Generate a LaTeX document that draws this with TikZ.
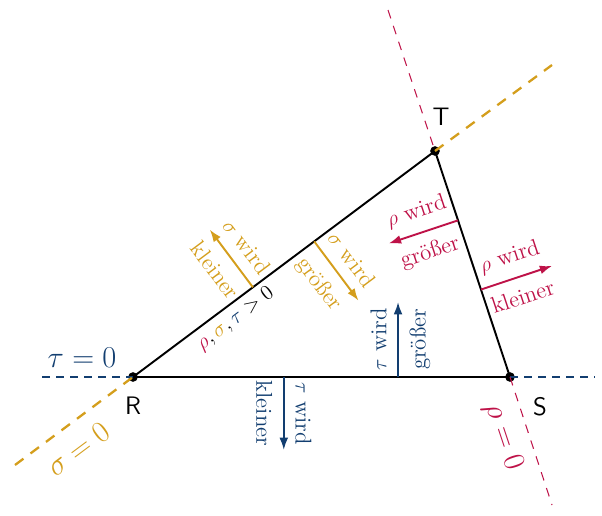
\documentclass[tikz,border=0pt]{standalone}
\usetikzlibrary{arrows.meta,calc}

\definecolor{taublue}{RGB}{18,62,112}
\definecolor{sigorange}{RGB}{212,158,28}
\definecolor{rhored}{RGB}{190,18,72}

\begin{document}
\begin{tikzpicture}[
    x=0.02cm, y=0.02cm,
    dot/.style={circle, fill=black, inner sep=0pt, minimum size=5.5pt},
    side/.style={line width=1.1pt},
    move/.style={-{Latex[length=7pt,width=5pt]}, line width=1.1pt},
    say/.style={midway, sloped, font=\fontsize{13}{15}\selectfont, inner sep=6pt},
    zero/.style={font=\LARGE},
    corner/.style={font=\Large\sffamily}
]
\useasboundingbox (0,0) rectangle (602,515);

    % Corners
    \node[dot] (R) at (133,138) {};
    \node[dot] (S) at (510,138) {};
    \node[dot] (T) at (435,364) {};
    \node[corner] (Rlab) at (133,109) {R};
    \node[corner] (Slab) at (540,108) {S};
    \node[corner] (Tlab) at (441,398) {T};

    % Triangle
    \draw[side] (R.center) -- (S.center) -- (T.center) -- cycle;

    % Points on the sides
    \path (R.center) -- (T.center) coordinate[pos=0.397] (sA) coordinate[pos=0.6] (sB);
    \path (S.center) -- (T.center) coordinate[pos=0.387] (rA) coordinate[pos=0.693] (rB);
    \path (R.center) -- (S.center) coordinate[pos=0.40] (tA) coordinate[pos=0.703] (tB);
    \coordinate (sAend) at ($(sA)+(126.8:72)$);
    \coordinate (sBend) at ($(sB)+(-53.2:74)$);
    \coordinate (rAend) at ($(rA)+(18.4:75)$);
    \coordinate (rBend) at ($(rB)+(198.4:73)$);
    \coordinate (tAend) at ($(tA)+(-90:73)$);
    \coordinate (tBend) at ($(tB)+(90:75)$);

    % Arrows
    \draw[move, sigorange] (sA) -- (sAend) node[say, above] {$\sigma$ wird} node[say, below] {kleiner};
    \draw[move, sigorange] (sB) -- (sBend) node[say, above] {$\sigma$ wird} node[say, below] {größer};
    \draw[move, rhored] (rA) -- (rAend) node[say, above] {$\rho$ wird} node[say, below] {kleiner};
    \draw[move, rhored] (rB) -- (rBend) node[say, above] {$\rho$ wird} node[say, below] {größer};
    \draw[move, taublue] (tA) -- (tAend) node[say, above] {$\tau$ wird} node[say, below] {kleiner};
    \draw[move, taublue] (tB) -- (tBend) node[say, above] {$\tau$ wird} node[say, below] {größer};

    % Inside
    \path (R.center) -- (T.center) node[pos=0.31, sloped, below, font=\fontsize{13}{15}\selectfont] (inside)
        {$\color{rhored}\rho\color{black},\color{sigorange}\sigma\color{black},\color{taublue}\tau\color{black}>0$};

    % Zero lines
    \coordinate (tauL) at (42,138);
    \coordinate (tauR) at (595,138);
    \coordinate (sigL) at (15,50);
    \coordinate (sigR) at (552,450);
    \coordinate (rhoT) at (388,505);
    \coordinate (rhoB) at (552,10);
    \draw[taublue, line width=0.6pt, dash pattern=on 4.5pt off 3.5pt] (tauL) -- (R.center) (S.center) -- (tauR);
    \draw[sigorange, line width=1.3pt, dash pattern=on 6pt off 5pt] (sigL) -- (R.center) (T.center) -- (sigR);
    \draw[rhored, line width=0.6pt, dash pattern=on 5pt off 4.5pt] (rhoT) -- (T.center) (S.center) -- (rhoB);

    \node[zero, taublue] (tauzero) at (82,157) {$\tau=0$};
    \node[zero, sigorange, rotate=36.8] (sigzero) at (78,66) {$\sigma=0$};
    \node[zero, rhored, rotate=-71.6] (rhozero) at (503,78) {$\rho=0$};

\end{tikzpicture}
\end{document}
